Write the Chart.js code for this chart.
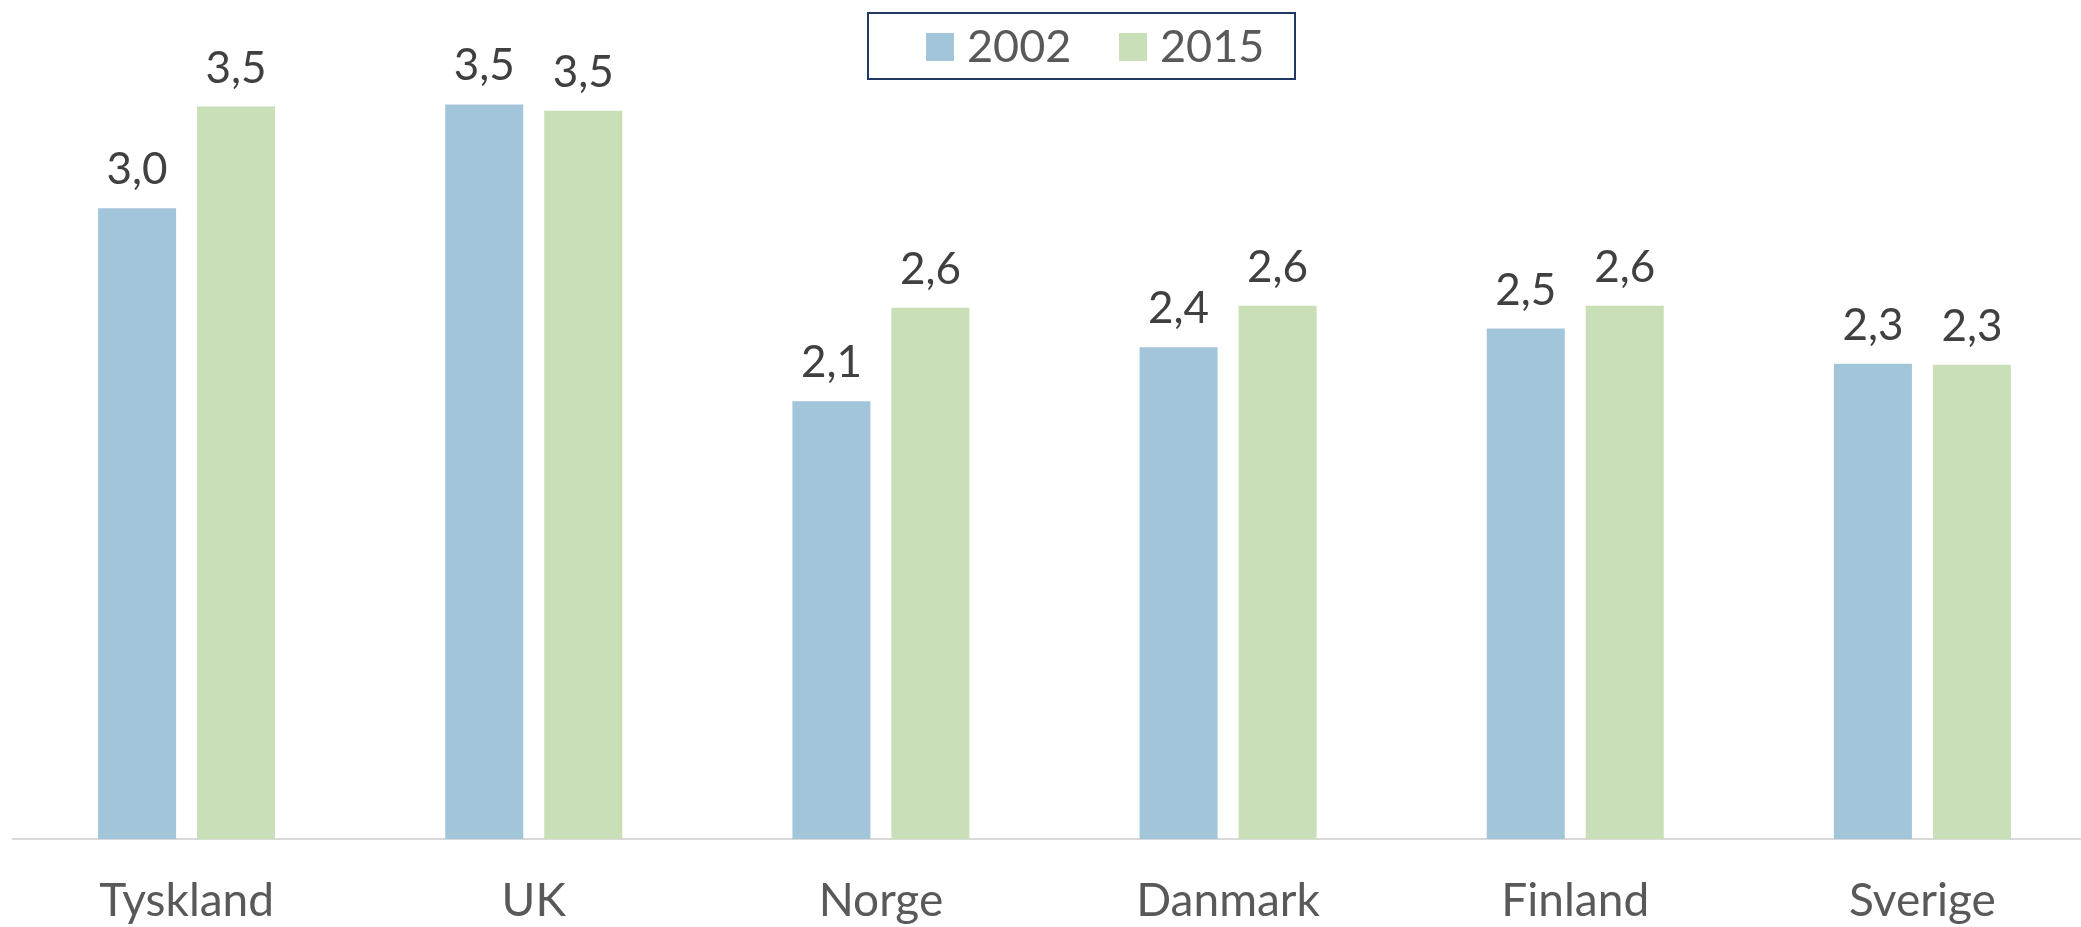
<!DOCTYPE html>
<html>
<head>
<meta charset="utf-8">
<script src="https://cdn.jsdelivr.net/npm/chart.js@4.4.0/dist/chart.umd.min.js"></script>
<style>
html,body{margin:0;padding:0;background:#ffffff;overflow:hidden}
#wrap{width:2081px;height:927px;overflow:hidden;position:relative;background:#fff}
canvas{display:block}
</style>
</head>
<body>
<div id="wrap"><canvas id="c" width="2100" height="927"></canvas></div>
<script>
const categories = ['Tyskland', 'UK', 'Norge', 'Danmark', 'Finland', 'Sverige'];
const seriesNames = ['2002', '2015'];
const values2002 = [3.04, 3.54, 2.11, 2.37, 2.46, 2.29];
const values2015 = [3.53, 3.51, 2.56, 2.57, 2.57, 2.285];
const seriesColors = ['#A3C5D9', '#C9DFB8'];
const yMin = 0;
const yMax = 3.6;

const FONT = 'Lato';

const valueLabels = {
  id: 'valueLabels',
  afterDatasetsDraw(chart) {
    const ctx = chart.ctx;
    ctx.save();
    ctx.font = '44px ' + FONT;
    ctx.fillStyle = '#404040';
    ctx.textAlign = 'center';
    ctx.textBaseline = 'alphabetic';
    chart.data.datasets.forEach((ds, i) => {
      chart.getDatasetMeta(i).data.forEach((bar, j) => {
        const txt = ds.data[j].toFixed(1).replace('.', ',');
        ctx.fillText(txt, bar.x, bar.y - 24);
      });
    });
    ctx.restore();
  }
};

const boxedLegend = {
  id: 'boxedLegend',
  afterDraw(chart) {
    const ctx = chart.ctx;
    ctx.save();
    // frame
    ctx.strokeStyle = '#1F3864';
    ctx.lineWidth = 2;
    ctx.strokeRect(868, 13, 427, 66);
    ctx.font = '45px ' + FONT;
    ctx.textBaseline = 'middle';
    ctx.textAlign = 'left';
    const starts = [926, 1119];
    chart.data.datasets.forEach((ds, i) => {
      const x = starts[i];
      ctx.fillStyle = ds.backgroundColor;
      ctx.fillRect(x, 33, 28, 28);
      ctx.fillStyle = '#595959';
      ctx.fillText(ds.label, x + 41, 47);
    });
    ctx.restore();
  }
};

function draw() {
  new Chart(document.getElementById('c'), {
    type: 'bar',
    data: {
      labels: categories,
      datasets: [
        { label: seriesNames[0], data: values2002, backgroundColor: seriesColors[0],
          categoryPercentage: 0.5703, barPercentage: 0.788 },
        { label: seriesNames[1], data: values2015, backgroundColor: seriesColors[1],
          categoryPercentage: 0.5703, barPercentage: 0.788 }
      ]
    },
    options: {
      responsive: false,
      animation: false,
      layout: { padding: { left: 13, right: 4, top: 92, bottom: 0 } },
      plugins: {
        legend: { display: false },
        tooltip: { enabled: false }
      },
      scales: {
        x: {
          grid: { display: false, drawTicks: false },
          border: { display: true, color: '#D9D9D9', width: 2 },
          ticks: {
            color: '#595959',
            font: { family: FONT, size: 46 },
            padding: 35
          },
          afterFit(scale) { scale.height = 88; }
        },
        y: {
          display: false,
          min: yMin,
          max: yMax
        }
      }
    },
    plugins: [valueLabels, boxedLegend]
  });
}

if (document.fonts && document.fonts.load) {
  Promise.all([document.fonts.load('44px Lato'), document.fonts.load('46px Lato')]).then(draw, draw);
} else {
  draw();
}
</script>
</body>
</html>
